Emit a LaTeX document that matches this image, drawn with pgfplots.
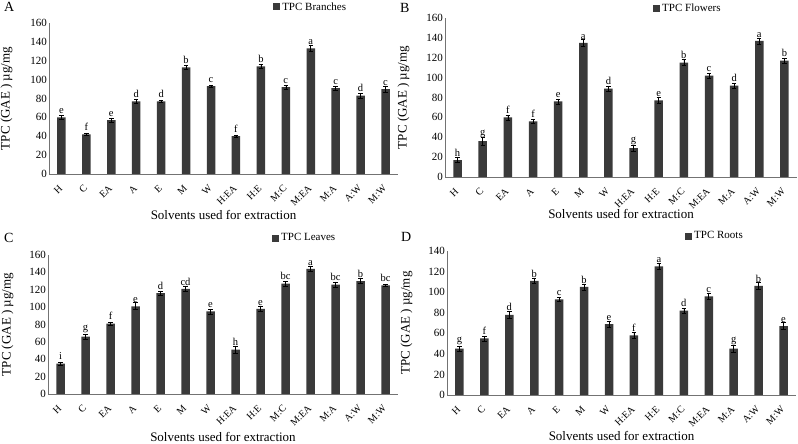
\documentclass[border=0pt]{standalone}
\usepackage{pgfplots}
\usepackage{pgfplotstable}
\pgfplotsset{compat=1.18}
\usepackage{fontspec}
\setmainfont{Liberation Serif}
\definecolor{barc}{HTML}{3A3A3A}

\pgfplotstableread{
x y e l
0 60 2.5 e
1 42 1.5 f
2 57 2.5 e
3 77 2 d
4 77 1.5 d
5 113 2 b
6 93 1.5 c
7 40 1 f
8 114 2 b
9 92 2 c
10 133 3 a
11 91 2 c
12 83 2.5 d
13 90 3 c
}\branches

\pgfplotstableread{
x y e l
0 17 2.5 h
1 36 4 g
2 60 2.5 f
3 56 2 f
4 76 2.5 e
5 135 3.5 a
6 89 2.5 d
7 29 3 g
8 77 3 e
9 115 3 b
10 102 2.5 c
11 92 2.5 d
12 137 3 a
13 117 2.5 b
}\flowers

\pgfplotstableread{
x y e l
0 35 2 i
1 66 2.5 g
2 81 2 f
3 101 4 e
4 116 2.5 d
5 121 3 cd
6 95 3 e
7 51 4 h
8 98 3 e
9 127 3 bc
10 144 3 a
11 126 3 bc
12 130 3 b
13 125 1.5 bc
}\leaves

\pgfplotstableread{
x y e l
0 45 2.5 g
1 55 2.5 f
2 78 3 d
3 111 2 b
4 93 2 c
5 105 3 b
6 69 3 e
7 58 2.5 f
8 125 3 a
9 82 2.5 d
10 96 3 c
11 45 3.5 g
12 106 3.5 b
13 67 3.5 e
}\roots

\pgfplotsset{
  panel/.style={
    scale only axis,
    ybar, bar width=8.5pt,
    xmin=-0.5, xmax=13.5, ymin=0,
    enlargelimits=false,
    axis x line*=bottom, axis y line*=left,
    axis line style={-, black!55},
    major tick length=0pt,
    xtick=data,
    xticklabels={H,C,EA,A,E,M,W,H:EA,H:E,M:C,M:EA,M:A,A:W,M:W},
    /pgf/number format/assume math mode=true,
    ylabel={TPC (GAE ) µg/mg},
    xlabel={Solvents used for extraction},
    legend style={draw=none, fill=none, font=\fontsize{11}{11}\selectfont, anchor=west, inner xsep=0pt, inner ysep=0pt},
    legend image code/.code={\fill[barc] (0pt,-3.5pt) rectangle (7pt,3.5pt);},
    nodes near coords,
    point meta=explicit symbolic,
    nodes near coords style={font=\fontsize{10.5}{10.5}\selectfont, text=black, inner sep=1pt, yshift=2.5pt},
  },
  bars/.style={fill=barc, draw=none,
    error bars/.cd, y dir=both, y explicit,
    error bar style={black, line width=0.6pt},
    error mark options={rotate=90, mark size=2.2pt, black, line width=0.6pt}},
  every x tick label/.append style={yshift=-12pt, rotate=45, anchor=east, font=\fontsize{10}{10}\selectfont, inner sep=1pt},
  every y tick label/.append style={font=\fontsize{11}{11}\selectfont, inner sep=2pt},
  every axis y label/.append style={font=\fontsize{13}{13}\selectfont},
  every axis x label/.append style={font=\fontsize{13}{13}\selectfont},
}

\begin{document}
\begin{tikzpicture}[x=1pt,y=1pt]
\path[use as bounding box] (0,0) rectangle (798,444);

% A
\begin{axis}[panel, at={(49pt,270pt)}, width=349pt, height=151pt,
  ymax=160, ytick={0,20,...,160},
  ylabel style={at={(rel axis cs:0,0.5)}, anchor=south, yshift=33pt},
  xlabel style={at={(rel axis cs:0.5,0)}, anchor=north, yshift=-33pt},
  legend style={at={(rel axis cs:0.642,1.106)}}]
\addplot[bars] table[x=x, y=y, y error=e, meta=l] {\branches};
\addlegendentry{TPC Branches}
\end{axis}

% B
\begin{axis}[panel, at={(445pt,267pt)}, width=352pt, height=159pt,
  ymax=160, ytick={0,20,...,160},
  ylabel style={at={(rel axis cs:0,0.5)}, anchor=south, yshift=32pt},
  xlabel style={at={(rel axis cs:0.5,0)}, anchor=north, yshift=-29pt},
  legend style={at={(rel axis cs:0.591,1.057)}}]
\addplot[bars] table[x=x, y=y, y error=e, meta=l] {\flowers};
\addlegendentry{TPC Flowers}
\end{axis}

% C
\begin{axis}[panel, at={(48pt,50pt)}, width=350pt, height=139pt,
  ymax=160, ytick={0,20,...,160},
  ylabel style={at={(rel axis cs:0,0.5)}, anchor=south, yshift=31pt},
  xlabel style={at={(rel axis cs:0.5,0)}, anchor=north, yshift=-35pt},
  legend style={at={(rel axis cs:0.64,1.122)}}]
\addplot[bars] table[x=x, y=y, y error=e, meta=l] {\leaves};
\addlegendentry{TPC Leaves}
\end{axis}

% D
\begin{axis}[panel, at={(447pt,49pt)}, width=349pt, height=144pt,
  ymax=140, ytick={0,20,...,140},
  ylabel style={at={(rel axis cs:0,0.5)}, anchor=south, yshift=31pt},
  xlabel style={at={(rel axis cs:0.5,0)}, anchor=north, yshift=-33pt},
  legend style={at={(rel axis cs:0.682,1.104)}}]
\addplot[bars] table[x=x, y=y, y error=e, meta=l] {\roots};
\addlegendentry{TPC Roots}
\end{axis}

\node[font=\fontsize{14}{14}\selectfont, anchor=west, inner sep=0pt] at (4,437) {A};
\node[font=\fontsize{14}{14}\selectfont, anchor=west, inner sep=0pt] at (400,436) {B};
\node[font=\fontsize{14}{14}\selectfont, anchor=west, inner sep=0pt] at (4,206) {C};
\node[font=\fontsize{14}{14}\selectfont, anchor=west, inner sep=0pt] at (401,207) {D};
\end{tikzpicture}
\end{document}
